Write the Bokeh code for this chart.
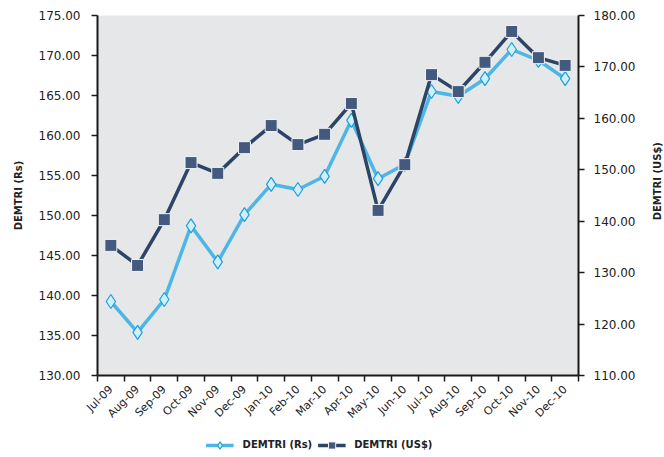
from bokeh.plotting import figure
from bokeh.layouts import column, row
from bokeh.models import (Range1d, LinearAxis, FixedTicker, SingleIntervalTicker,
                          NumeralTickFormatter, Legend, LegendItem)
from bokeh.core.properties import value
from bokeh.embed import file_html
from bokeh.resources import INLINE
import math

months = ["Jul-09", "Aug-09", "Sep-09", "Oct-09", "Nov-09", "Dec-09",
          "Jan-10", "Feb-10", "Mar-10", "Apr-10", "May-10", "Jun-10",
          "Jul-10", "Aug-10", "Sep-10", "Oct-10", "Nov-10", "Dec-10"]
demtri_rs = [139.25, 135.4, 139.5, 148.7, 144.2, 150.1,
             153.9, 153.25, 154.9, 161.9, 154.6, 156.4,
             165.5, 164.9, 167.1, 170.75, 169.4, 167.1]
demtri_usd = [135.3, 131.4, 140.3, 151.4, 149.3, 154.3,
              158.6, 154.9, 156.9, 162.9, 142.1, 151.0,
              168.5, 165.2, 170.9, 176.9, 171.8, 170.3]
left_range = (130, 175)
right_range = (110, 180)

xs = list(range(len(months)))

FONT = "DejaVu Sans"
RS_LINE = dict(line_color="#4DB6E6", line_width=3.5)
RS_MARK = dict(marker="diamond", size=14, fill_color="#CFEFFC",
               line_color="#1E9FDB", line_width=1.2)
USD_LINE = dict(line_color="#2B4468", line_width=3.5)
USD_MARK = dict(marker="square", size=12, fill_color="#435A7E",
                line_color="#F2F4F8", line_width=1)

CHART_H = 428
p = figure(width=642, height=CHART_H,
           x_range=Range1d(-0.5, len(months) - 0.5),
           y_range=Range1d(*left_range),
           output_backend="svg", toolbar_location=None,
           min_border_left=97, min_border_right=64,
           min_border_top=15, min_border_bottom=53)
p.extra_y_ranges = {"usd": Range1d(*right_range)}
p.background_fill_color = "#E6E7E9"
p.border_fill_color = "white"
p.outline_line_color = None
p.xgrid.visible = False
p.ygrid.visible = False

# x axis: month labels centred, tick marks between months
xa = p.xaxis[0]
xa.ticker = FixedTicker(ticks=xs, minor_ticks=[i - 0.5 for i in range(len(months) + 1)])
xa.major_label_overrides = {i: m for i, m in zip(xs, months)}
xa.major_tick_line_color = None
xa.minor_tick_in = 0
xa.minor_tick_out = 6
xa.minor_tick_line_color = "#1a1a1a"
xa.minor_tick_line_width = 1.5
xa.axis_line_width = 2
xa.axis_line_color = "#1a1a1a"
xa.major_label_orientation = math.pi / 4
xa.major_label_text_font = FONT
xa.major_label_text_font_size = "11px"
xa.major_label_text_color = "#222222"
xa.major_label_standoff = 6

# left axis (Rs)
ya = p.yaxis[0]
ya.ticker = SingleIntervalTicker(interval=5, num_minor_ticks=0)
ya.formatter = NumeralTickFormatter(format="0.00")
ya.axis_label = "DEMTRI (Rs)"
ya.axis_label_text_font = FONT
ya.axis_label_text_font_size = "10px"
ya.axis_label_text_font_style = "bold"
ya.axis_label_text_color = "#222222"
ya.axis_label_standoff = 12
ya.major_label_text_font = FONT
ya.major_label_text_font_size = "12px"
ya.major_label_text_color = "#222222"
ya.major_label_standoff = 11
ya.major_tick_in = 0
ya.major_tick_out = 6
ya.major_tick_line_width = 1.5
ya.major_tick_line_color = "#1a1a1a"
ya.minor_tick_line_color = None
ya.axis_line_width = 2
ya.axis_line_color = "#1a1a1a"

# right axis (US$); its title is drawn in the side strip
yr = LinearAxis(y_range_name="usd",
                ticker=SingleIntervalTicker(interval=10, num_minor_ticks=0),
                formatter=NumeralTickFormatter(format="0.00"))
yr.major_label_text_font = FONT
yr.major_label_text_font_size = "12px"
yr.major_label_text_color = "#222222"
yr.major_label_standoff = 9
yr.major_tick_in = 0
yr.major_tick_out = 6
yr.major_tick_line_width = 1.5
yr.major_tick_line_color = "#1a1a1a"
yr.minor_tick_line_color = None
yr.axis_line_width = 2
yr.axis_line_color = "#1a1a1a"
p.add_layout(yr, "right")

# Rs series
p.line(xs, demtri_rs, **RS_LINE)
p.scatter(xs, demtri_rs, **RS_MARK)

# US$ series
p.line(xs, demtri_usd, y_range_name="usd", **USD_LINE)
p.scatter(xs, demtri_usd, y_range_name="usd", **USD_MARK)

# side strip holding the right-hand axis title, reading bottom to top
side = figure(width=22, height=CHART_H, output_backend="svg", toolbar_location=None,
              x_axis_location=None, y_axis_location=None,
              x_range=Range1d(0, 22), y_range=Range1d(0, CHART_H),
              min_border=0, outline_line_color=None)
side.grid.visible = False
side.text(x=[15], y=[CHART_H - 197], text=["DEMTRI (US$)"], angle=math.pi / 2,
          text_align="center", text_baseline="middle",
          text_font=value(FONT), text_font_size="10px", text_font_style="bold",
          text_color="#222222")

# legend strip under the chart (swatch renderers carry no visible data)
nan = float("nan")
lg = figure(width=664, height=29, output_backend="svg", toolbar_location=None,
            x_axis_location=None, y_axis_location=None,
            x_range=Range1d(0, 1), y_range=Range1d(0, 1),
            min_border_left=0, min_border_right=26,
            min_border_top=4, min_border_bottom=0,
            outline_line_color=None)
lg.grid.visible = False
lg_rs_line = lg.line([nan], [nan], **RS_LINE)
lg_rs_mark = lg.scatter([nan], [nan], **RS_MARK)
lg_usd_line = lg.line([nan], [nan], **USD_LINE)
lg_usd_mark = lg.scatter([nan], [nan], **USD_MARK)
legend = Legend(items=[LegendItem(label="DEMTRI (Rs)", renderers=[lg_rs_line, lg_rs_mark]),
                       LegendItem(label="DEMTRI (US$)", renderers=[lg_usd_line, lg_usd_mark])],
                orientation="horizontal", location="center",
                background_fill_alpha=0, border_line_color=None,
                padding=0, margin=0, spacing=5,
                glyph_width=28, glyph_height=18, label_standoff=9,
                label_text_font=FONT, label_text_font_size="10px",
                label_text_font_style="bold", label_text_color="#222222")
lg.add_layout(legend, "center")

layout = column(row(p, side, spacing=0), lg, spacing=0)
open("out.html", "w").write(file_html(layout, INLINE))
